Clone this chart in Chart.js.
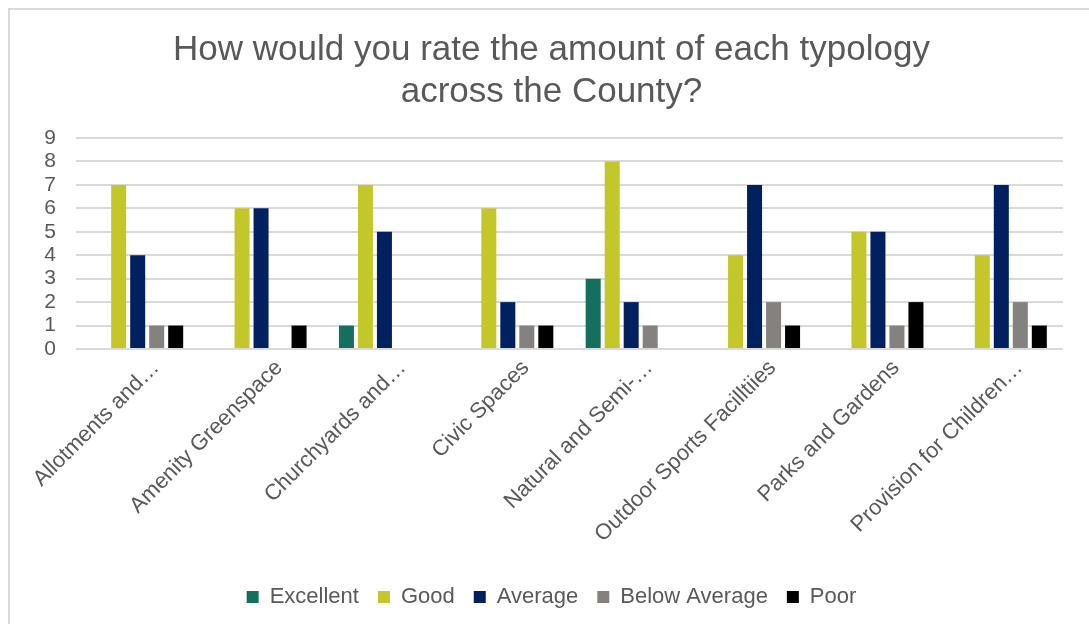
<!DOCTYPE html>
<html lang="en">
<head>
  <meta charset="UTF-8">
  <title>Typology rating</title>
  <script src="https://cdn.jsdelivr.net/npm/chart.js"></script>
  <style>
    body { margin: 0; background: #fff; }
    .frame {
      position: absolute; left: 8px; top: 8px;
      width: 1081px; height: 616px;
      border-left: 2px solid #d9d9d9; border-top: 2px solid #d9d9d9;
      overflow: hidden;
    }
  </style>
</head>
<body>
  <div class="frame">
    <canvas id="ratingChart" width="1079" height="614"></canvas>
  </div>

  <script>
    // Data
    const categories = [
      'Allotments and\u2026', 'Amenity Greenspace', 'Churchyards and\u2026', 'Civic Spaces',
      'Natural and Semi-\u2026', 'Outdoor Sports Facilltiies', 'Parks and Gardens', 'Provision for Children\u2026'
    ];
    const excellent    = [0, 0, 1, 0, 3, 0, 0, 0];
    const good         = [7, 6, 7, 6, 8, 4, 5, 4];
    const average      = [4, 6, 5, 2, 2, 7, 5, 7];
    const belowAverage = [1, 0, 0, 1, 1, 2, 1, 2];
    const poor         = [1, 1, 0, 1, 0, 1, 2, 1];
    const yMax = 9;
    const yStep = 1;

    const textColor = '#595959';
    const fontFamily = "'Liberation Sans', Arial, sans-serif";

    const mkSet = (label, data, color) => ({
      label: label,
      data: data,
      backgroundColor: color,
      borderWidth: 0,
      categoryPercentage: 0.77,
      barPercentage: 0.79,
    });

    const ctx = document.getElementById('ratingChart').getContext('2d');
    new Chart(ctx, {
      type: 'bar',
      data: {
        labels: categories,
        datasets: [
          mkSet('Excellent', excellent, '#146f5c'),
          mkSet('Good', good, '#c4c72a'),
          mkSet('Average', average, '#00205f'),
          mkSet('Below Average', belowAverage, '#85817e'),
          mkSet('Poor', poor, '#000000'),
        ],
      },
      options: {
        responsive: false,
        animation: false,
        layout: { padding: { left: 30, right: 26, top: 0, bottom: 6 } },
        plugins: {
          title: {
            display: true,
            text: ['How would you rate the amount of each typology', 'across the County?'],
            color: textColor,
            font: { family: fontFamily, size: 35, weight: 'normal', lineHeight: 1.2 },
            padding: { top: 19, bottom: 25 },
          },
          legend: {
            position: 'bottom',
            labels: {
              color: textColor,
              boxWidth: 12,
              boxHeight: 12,
              padding: 19,
              font: { family: fontFamily, size: 22 },
            },
          },
          tooltip: { enabled: false },
        },
        scales: {
          x: {
            grid: { display: false },
            border: { display: false },
            ticks: {
              autoSkip: false,
              minRotation: 45,
              maxRotation: 45,
              padding: -2,
              labelOffset: 18,
              color: textColor,
              font: { family: fontFamily, size: 22 },
            },
            afterFit: (scale) => {
              // keep the rotated first label from pushing the plot right
              scale.height = 218;
              scale.paddingLeft = 0;
              scale.paddingRight = 0;
            },
          },
          y: {
            min: 0,
            max: yMax,
            grid: { color: '#d9d9d9', lineWidth: 2, drawTicks: false },
            border: { display: false },
            ticks: {
              stepSize: yStep,
              autoSkip: false,
              padding: 20,
              color: textColor,
              font: { family: fontFamily, size: 21 },
            },
            afterFit: (scale) => { scale.width = 36; },
          },
        },
      },
    });
  </script>
</body>
</html>
